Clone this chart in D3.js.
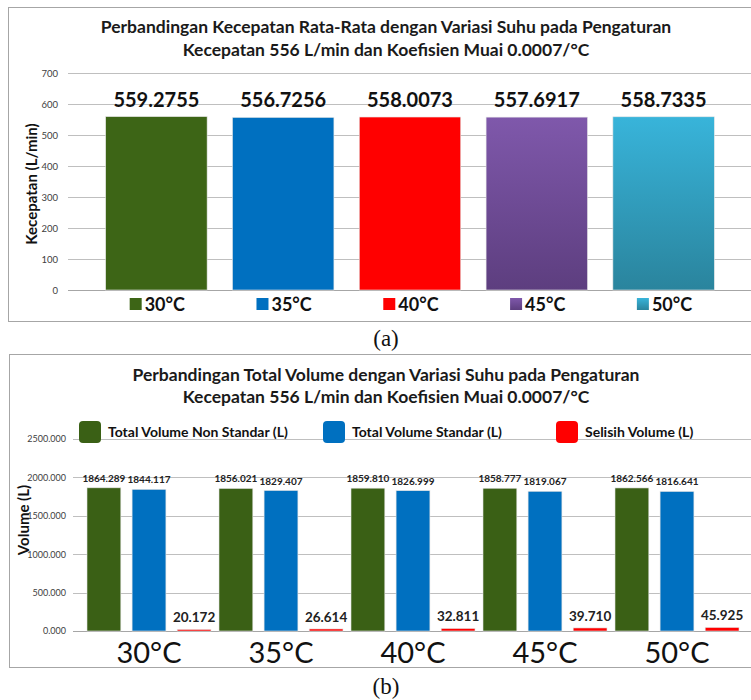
<!DOCTYPE html>
<html>

<head>
    <meta charset="utf-8">
    <script src="https://d3js.org/d3.v7.min.js"></script>
    <style>
        body { margin: 0; background: #fff; }
        text { font-family: Lato, "Open Sans", sans-serif; }
    </style>
</head>

<body>
    <div id="chart"></div>

    <script>
        // data
        const categories = ["30°C", "35°C", "40°C", "45°C", "50°C"];
        const kecepatan = [559.2755, 556.7256, 558.0073, 557.6917, 558.7335];
        const kecepatanLabels = ["559.2755", "556.7256", "558.0073", "557.6917", "558.7335"];
        const yTicksA = [0, 100, 200, 300, 400, 500, 600, 700];

        const seriesNames = ["Total Volume Non Standar (L)", "Total Volume Standar (L)", "Selisih Volume (L)"];
        const nonStandar = [1864.289, 1856.021, 1859.810, 1858.777, 1862.566];
        const standar = [1844.117, 1829.407, 1826.999, 1819.067, 1816.641];
        const selisih = [20.172, 26.614, 32.811, 39.710, 45.925];
        const yTicksB = [0, 500, 1000, 1500, 2000, 2500];

        const W = 751, H = 700;
        const svg = d3.select("#chart").append("svg")
            .attr("width", W).attr("height", H);

        const defs = svg.append("defs");
        // gradients for the bars of chart (a)
        const grads = [
            { id: "g0", top: "#3d6516", bot: "#3d6516" },
            { id: "g1", top: "#0070c0", bot: "#0070c0" },
            { id: "g2", top: "#ff0000", bot: "#ff0000" },
            { id: "g3", top: "#7f58ab", bot: "#5d3e7f" },
            { id: "g4", top: "#38b4da", bot: "#2a849d" }
        ];
        grads.forEach(g => {
            const lg = defs.append("linearGradient").attr("id", g.id)
                .attr("x1", 0).attr("y1", 0).attr("x2", 0).attr("y2", 1);
            lg.append("stop").attr("offset", "0%").attr("stop-color", g.top);
            lg.append("stop").attr("offset", "100%").attr("stop-color", g.bot);
        });

        // ---------------- chart (a) ----------------
        svg.append("rect").attr("x", 8.5).attr("y", 7.5)
            .attr("width", 800).attr("height", 314)
            .attr("fill", "none").attr("stroke", "#a6a6a6");

        const titleA = svg.append("text").attr("text-anchor", "middle")
            .attr("font-weight", "bold").attr("font-size", 17.5).attr("fill", "#1a1a1a");
        titleA.append("tspan").attr("x", 386).attr("y", 33)
            .text("Perbandingan Kecepatan Rata-Rata dengan Variasi Suhu pada Pengaturan");
        titleA.append("tspan").attr("x", 386).attr("y", 56)
            .text("Kecepatan 556 L/min dan Koefisien Muai 0.0007/°C");

        const xA = d3.scaleBand().domain(categories).range([93, 727]).paddingInner(0.2).paddingOuter(0.1);
        const yA = d3.scaleLinear().domain([0, 700]).range([290, 73]);

        const gA = svg.append("g");
        gA.selectAll(".grid").data(yTicksA).join("line")
            .attr("x1", 68).attr("x2", W)
            .attr("y1", d => Math.round(yA(d)) + 0.5).attr("y2", d => Math.round(yA(d)) + 0.5)
            .attr("stroke", d => d === 0 ? "#a6a6a6" : "#bfbfbf").attr("stroke-width", 1.2);

        const yAxisA = gA.append("g").attr("transform", "translate(60,0)")
            .call(d3.axisLeft(yA).tickValues(yTicksA).tickSize(0).tickPadding(2));
        yAxisA.select(".domain").remove();
        yAxisA.selectAll("text").attr("font-size", 9.5).attr("fill", "#404040")
            .style("font-family", "Lato, sans-serif");

        gA.selectAll(".barA").data(kecepatan).join("rect")
            .attr("x", (d, i) => xA(categories[i]))
            .attr("y", d => yA(d))
            .attr("width", xA.bandwidth())
            .attr("height", d => yA(0) - yA(d))
            .attr("fill", (d, i) => `url(#g${i})`)
            .attr("stroke", "#e6e6e6").attr("stroke-width", 0.6);

        gA.selectAll(".labA").data(kecepatan).join("text")
            .attr("x", (d, i) => xA(categories[i]) + xA.bandwidth() / 2)
            .attr("y", d => yA(d) - 10)
            .attr("text-anchor", "middle").attr("font-weight", "bold")
            .attr("font-size", 20).attr("fill", "#111")
            .text((d, i) => kecepatanLabels[i]);

        // legend (a)
        const legA = gA.selectAll(".legA").data(categories).join("g")
            .attr("transform", (d, i) => `translate(${xA(d) + 24},304)`);
        legA.append("rect").attr("x", 0).attr("y", -6).attr("width", 12).attr("height", 12)
            .attr("fill", (d, i) => `url(#g${i})`);
        legA.append("text").attr("x", 15).attr("y", 7)
            .attr("font-weight", "bold").attr("font-size", 18).attr("fill", "#111")
            .text(d => d);

        svg.append("text").attr("transform", "translate(37,184) rotate(-90)")
            .attr("text-anchor", "middle").attr("font-weight", "bold").attr("font-size", 15)
            .attr("fill", "#111").text("Kecepatan (L/min)");

        svg.append("text").attr("x", 386).attr("y", 346).attr("text-anchor", "middle")
            .attr("font-size", 23).style("font-family", "'Liberation Serif', serif")
            .attr("fill", "#111").text("(a)");

        // ---------------- chart (b) ----------------
        svg.append("rect").attr("x", 9.5).attr("y", 354.5)
            .attr("width", 800).attr("height", 313)
            .attr("fill", "none").attr("stroke", "#a6a6a6");

        const titleB = svg.append("text").attr("text-anchor", "middle")
            .attr("font-weight", "bold").attr("font-size", 17.5).attr("fill", "#1a1a1a");
        titleB.append("tspan").attr("x", 386).attr("y", 381)
            .text("Perbandingan Total Volume dengan Variasi Suhu pada Pengaturan");
        titleB.append("tspan").attr("x", 386).attr("y", 403)
            .text("Kecepatan 556 L/min dan Koefisien Muai 0.0007/°C");

        const xB = d3.scaleBand().domain(categories).range([83, 743]);
        const xInner = d3.scaleBand().domain([0, 1, 2]).range([4, 128]).paddingInner(0.25);
        const yB = d3.scaleLinear().domain([0, 2500]).range([631, 439]);

        const gB = svg.append("g");
        gB.selectAll(".grid").data(yTicksB).join("line")
            .attr("x1", 73).attr("x2", W)
            .attr("y1", d => Math.round(yB(d)) + 0.5).attr("y2", d => Math.round(yB(d)) + 0.5)
            .attr("stroke", d => d === 0 ? "#a6a6a6" : "#bfbfbf").attr("stroke-width", 1.2);

        const yAxisB = gB.append("g").attr("transform", "translate(66,0)")
            .call(d3.axisLeft(yB).tickValues(yTicksB).tickSize(0).tickPadding(0).tickFormat(d3.format(".3f")));
        yAxisB.select(".domain").remove();
        yAxisB.selectAll("text").attr("font-size", 9).attr("fill", "#404040")
            .style("font-family", "Lato, sans-serif");

        const seriesColors = ["#3a6015", "#0070c0", "#ff0000"];
        const seriesData = [nonStandar, standar, selisih];
        const labelSize = [10, 10, 13.5];

        seriesData.forEach((vals, s) => {
            gB.selectAll(".bar" + s).data(vals).join("rect")
                .attr("x", (d, i) => xB(categories[i]) + xInner(s))
                .attr("y", d => yB(d))
                .attr("width", xInner.bandwidth())
                .attr("height", d => yB(0) - yB(d))
                .attr("fill", seriesColors[s])
                .attr("stroke", "#e3e3e3").attr("stroke-width", 0.6);

            gB.selectAll(".lab" + s).data(vals).join("text")
                .attr("x", (d, i) => xB(categories[i]) + xInner(s) + xInner.bandwidth() / 2)
                .attr("y", d => yB(d) - (s === 2 ? 7 : 6))
                .attr("text-anchor", "middle").attr("font-weight", "bold")
                .attr("font-size", labelSize[s]).attr("fill", "#222")
                .text(d => d3.format(".3f")(d));
        });

        // category labels (b)
        gB.selectAll(".catB").data(categories).join("text")
            .attr("x", d => xB(d) + xB.bandwidth() / 2)
            .attr("y", 663)
            .attr("text-anchor", "middle").attr("font-size", 29).attr("fill", "#111")
            .text(d => d);

        // legend (b)
        const legX = [79, 323, 556];
        const legB = gB.selectAll(".legB").data(seriesNames).join("g")
            .attr("transform", (d, i) => `translate(${legX[i]},421)`);
        legB.append("rect").attr("width", 22).attr("height", 22).attr("rx", 4)
            .attr("fill", (d, i) => seriesColors[i]);
        legB.append("text").attr("x", 29).attr("y", 16)
            .attr("font-weight", "bold").attr("font-size", 14).attr("fill", "#111")
            .text(d => d);

        svg.append("text").attr("transform", "translate(29,520) rotate(-90)")
            .attr("text-anchor", "middle").attr("font-weight", "bold").attr("font-size", 15)
            .attr("fill", "#111").text("Volume (L)");

        svg.append("text").attr("x", 386).attr("y", 694).attr("text-anchor", "middle")
            .attr("font-size", 23).style("font-family", "'Liberation Serif', serif")
            .attr("fill", "#111").text("(b)");
    </script>
</body>

</html>
